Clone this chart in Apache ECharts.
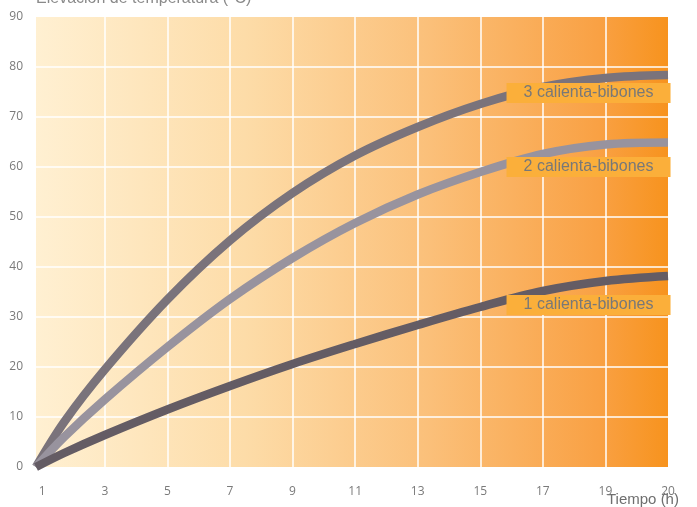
<!DOCTYPE html>
<html>
<head>
<meta charset="utf-8">
<script src="https://cdn.jsdelivr.net/npm/echarts@6/dist/echarts.min.js"></script>
<style>html,body{margin:0;padding:0;background:#fff}#c{width:697px;height:507px}</style>
</head>
<body>
<div id="c"></div>
<script>
// Data
const hours = [0.8, 1.7, 3, 5, 7, 9, 11, 13, 15, 17, 19, 21];
const heat3 = [0, 9.0, 19.5, 33.5, 45.3, 54.8, 62.3, 68.0, 72.6, 76.0, 77.8, 78.4];
const heat2 = [0, 6.0, 13.5, 24.0, 33.6, 41.8, 48.8, 54.5, 59.0, 62.6, 64.5, 64.9];
const heat1 = [0, 2.8, 6.4, 11.5, 16.2, 20.6, 24.6, 28.4, 32.0, 35.2, 37.2, 38.2];
const seriesNames = ['3 calienta-bibones', '2 calienta-bibones', '1 calienta-bibones'];
const xTickValues = [1, 3, 5, 7, 9, 11, 13, 15, 17, 19, 21];
const xTickLabels = ['1', '3', '5', '7', '9', '11', '13', '15', '17', '19', '20'];
const xGridValues = [3, 5, 7, 9, 11, 13, 15, 17, 19];
const yTickValues = [0, 10, 20, 30, 40, 50, 60, 70, 80, 90];
const yGridValues = [10, 20, 30, 40, 50, 60, 70, 80];
const labelAnchors = [[18.46, 74.8], [18.46, 60.0], [18.46, 32.4]];

const pair = (vals) => hours.map((h, i) => [h, vals[i]]);
const colors = ['#7a737b', '#98939e', '#645c64'];
const allData = [heat3, heat2, heat1];

const chart = echarts.init(document.getElementById('c'), null, {renderer: 'canvas'});
const xLabelMap = {};
xTickValues.forEach((v, i) => { xLabelMap[v] = xTickLabels[i]; });

chart.setOption({
  animation: false,
  grid: {
    left: 36, right: 29, top: 17, bottom: 40, show: true, borderWidth: 0,
    outerBoundsMode: 'none', containLabel: false,
    backgroundColor: new echarts.graphic.LinearGradient(0, 0, 1, 0, [
      {offset: 0, color: '#fff0d2'},
      {offset: 0.33, color: '#fddca8'},
      {offset: 0.62, color: '#fbc07a'},
      {offset: 0.89, color: '#f9a144'},
      {offset: 1, color: '#f7931e'}
    ])
  },
  xAxis: {
    type: 'value', min: 0.8, max: 21,
    axisLine: {show: false},
    axisTick: {show: false, customValues: xGridValues},
    splitLine: {show: true, lineStyle: {color: '#ffffff', width: 1.5}},
    axisLabel: {
      customValues: xTickValues, margin: 19, color: '#7a7a7a', fontSize: 12,
      fontFamily: 'Open Sans',
      formatter: (v) => xLabelMap[v] !== undefined ? xLabelMap[v] : ''
    }
  },
  yAxis: {
    type: 'value', min: 0, max: 90,
    name: 'Elevación de temperatura (°C)', nameLocation: 'end', nameGap: 10,
    nameTextStyle: {align: 'left', color: '#8a8a8a', fontSize: 16, fontFamily: 'Liberation Sans'},
    axisLine: {show: false},
    axisTick: {show: false, customValues: yGridValues},
    splitLine: {show: true, lineStyle: {color: '#ffffff', width: 1.5}},
    axisLabel: {customValues: yTickValues, margin: 13, color: '#7a7a7a', fontSize: 12,
      fontFamily: 'Open Sans', padding: [0, 0, 7, 0], verticalAlign: 'middle'}
  },
  graphic: [{
    type: 'text', left: 607, top: 492,
    style: {text: 'Tiempo (h)', fill: '#6e6e6e', fontSize: 15, fontFamily: 'Liberation Sans'}
  }],
  series: allData.map((vals, i) => ({
    name: seriesNames[i],
    type: 'line',
    data: pair(vals),
    smooth: 0.35,
    showSymbol: false,
    lineStyle: {color: colors[i], width: 8.5, cap: 'butt'},
    z: 2 + i,
    markPoint: {
      z: 10,
      silent: true,
      symbol: 'rect',
      symbolSize: [164, 20],
      itemStyle: {color: '#fbaf3a'},
      label: {show: true, position: 'inside', formatter: seriesNames[i], color: '#787878',
        fontSize: 16, fontFamily: 'Liberation Sans'},
      data: [{coord: labelAnchors[i]}]
    }
  }))
});
</script>
</body>
</html>
